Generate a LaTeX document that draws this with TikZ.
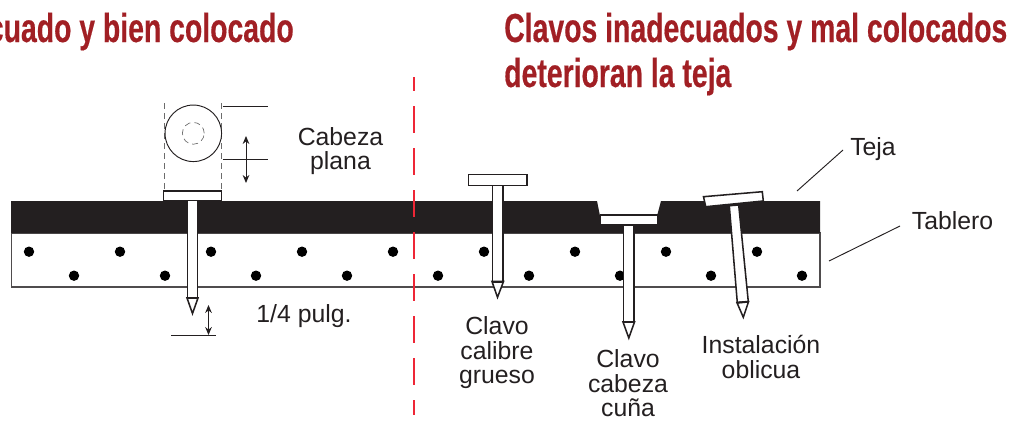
\documentclass[tikz,border=0pt]{standalone}
\usepackage{fontspec}
\setmainfont{Liberation Sans}
\newfontfamily\titlefont[FakeStretch=0.70,FakeBold=0.4]{Liberation Sans Bold}
\usetikzlibrary{arrows.meta}
\definecolor{titlered}{HTML}{A11F24}
\definecolor{dashred}{HTML}{EE2636}
\definecolor{ink}{HTML}{231F20}
\tikzset{
  x=0.75pt,y=-0.75pt,
  lbl/.style={text=ink,font=\fontsize{18.6}{18.4}\selectfont,inner sep=0pt,align=center},
  ttl/.style={text=titlered,font=\titlefont\fontsize{30.4}{34}\selectfont,inner sep=0pt,anchor=base west},
  nailpart/.style={draw=ink,line width=1.15pt,fill=white,line join=miter},
  tiptop/.style={draw=ink,line width=1.5pt},
  thin/.style={draw=ink,line width=0.7pt},
  dim/.style={draw=ink,line width=0.7pt,{Stealth[length=6pt,width=5pt]}-{Stealth[length=6pt,width=5pt]}},
  guide/.style={draw=gray!85!black,line width=0.5pt,dash pattern=on 4.5pt off 3pt},
  dot/.style={circle,fill=black,inner sep=0pt,minimum size=7.8pt}
}
\begin{document}
\begin{tikzpicture}
\useasboundingbox (0,0) rectangle (1010,421);
\clip (0,0) rectangle (1010,421);
% tablero
\draw[draw=ink!80,line width=1.2pt] (11.5,233) rectangle (820,287);
% dots
\foreach \px in {29,120,211,302,393,484,575,666,757} \node[dot] at (\px,251.7) {};
\foreach \px in {74,165,256,347,438,529,620,711,802} \node[dot] at (\px,275.7) {};
% teja
\fill[ink] (11,201) -- (597,201) -- (600,216) -- (657,216) -- (661,201) -- (820,201) -- (820,233) -- (11,233) -- cycle;
% nail 1
\draw[nailpart] (187.5,200) -- (197.5,200) -- (197.5,298) -- (187.5,298) -- cycle;
\draw[nailpart] (163.5,191) rectangle (221.5,200.5);
\draw[nailpart] (187,298) -- (198,298) -- (192.5,313.5) -- cycle;
\draw[tiptop] (187,298) -- (198,298);
% head view
\draw[guide] (164.3,103) -- (164.3,190);
\draw[guide] (221.7,103) -- (221.7,190);
\draw[thin,fill=white] (193.3,133.3) circle[radius=21.2pt];
\draw[guide] (193.3,133.3) circle[radius=8.2pt];
\coordinate (ht1) at (222.5,106.3); \coordinate (ht2) at (268,106.3);
\coordinate (hb1) at (222.5,159.3); \coordinate (hb2) at (268,159.3);
\draw[thin] (ht1) -- (ht2);
\draw[thin] (hb1) -- (hb2);
\coordinate (da1) at (246,136); \coordinate (da2) at (246,183);
\draw[dim] (da1) -- (da2);
\coordinate (db1) at (208.5,305); \coordinate (db2) at (208.5,335);
\draw[dim] (db1) -- (db2);
\coordinate (dl1) at (171,335.5); \coordinate (dl2) at (216,335.5);
\draw[thin] (dl1) -- (dl2);
% nail 2
\draw[nailpart] (492.5,185) -- (503,185) -- (503,281.5) -- (492.5,281.5) -- cycle;
\draw[nailpart] (468.5,174.3) rectangle (527,185.3);
\draw[nailpart] (492,281.5) -- (503.5,281.5) -- (497.5,297.3) -- cycle;
\draw[tiptop] (492,281.5) -- (503.5,281.5);
% nail 3
\draw[nailpart] (623.5,224.5) -- (634,224.5) -- (634,322) -- (623.5,322) -- cycle;
\draw[nailpart] (600.5,215) rectangle (657.5,224.8);
\draw[nailpart] (623,322) -- (634.5,322) -- (628.8,338) -- cycle;
\draw[tiptop] (623,322) -- (634.5,322);
% nail 4
\draw[nailpart] (729.3,205.7) -- (738.7,205) -- (748.3,301.7) -- (737.3,302.7) -- cycle;
\draw[nailpart] (703.5,196.7) -- (762.3,191.7) -- (763.3,201) -- (705.7,206.7) -- cycle;
\draw[nailpart] (737,302.7) -- (748.5,301.7) -- (743.3,317.3) -- cycle;
\draw[tiptop] (737,302.7) -- (748.5,301.7);
% red divider
\coordinate (r1) at (414,77); \coordinate (r2) at (414,415);
\draw[dashred,line width=2.2pt,dash pattern=on 20.25pt off 11.25pt,dash phase=9.75pt] (r1) -- (r2);
% leaders
\coordinate (t1) at (797,191); \coordinate (t2) at (843,150);
\coordinate (b1) at (829,261); \coordinate (b2) at (900,226);
\draw[thin] (t1) -- (t2);
\draw[thin] (b1) -- (b2);
% labels
\node[lbl] (cabeza) at (340.5,151) {Cabeza\\plana};
\node[lbl,anchor=base] (pulg) at (304,322) {1/4 pulg.};
\node[lbl] (calibre) at (497,353) {Clavo\\calibre\\grueso};
\node[lbl] (cuna) at (628,383.5) {Clavo\\cabeza\\cuña};
\node[lbl] (oblicua) at (761,357) {Instalación\\oblicua};
\node[lbl,anchor=base] (teja) at (873,155.5) {Teja};
\node[lbl,anchor=base] (tablero) at (952.5,229.5) {Tablero};
% titles
\node[ttl,anchor=base east] (t0) at (294,42) {cuado y bien colocado};
\node[ttl] (t1n) at (504,42) {Clavos inadecuados y mal colocados};
\node[ttl] (t2n) at (504,87) {deterioran la teja};
\end{tikzpicture}
\end{document}
